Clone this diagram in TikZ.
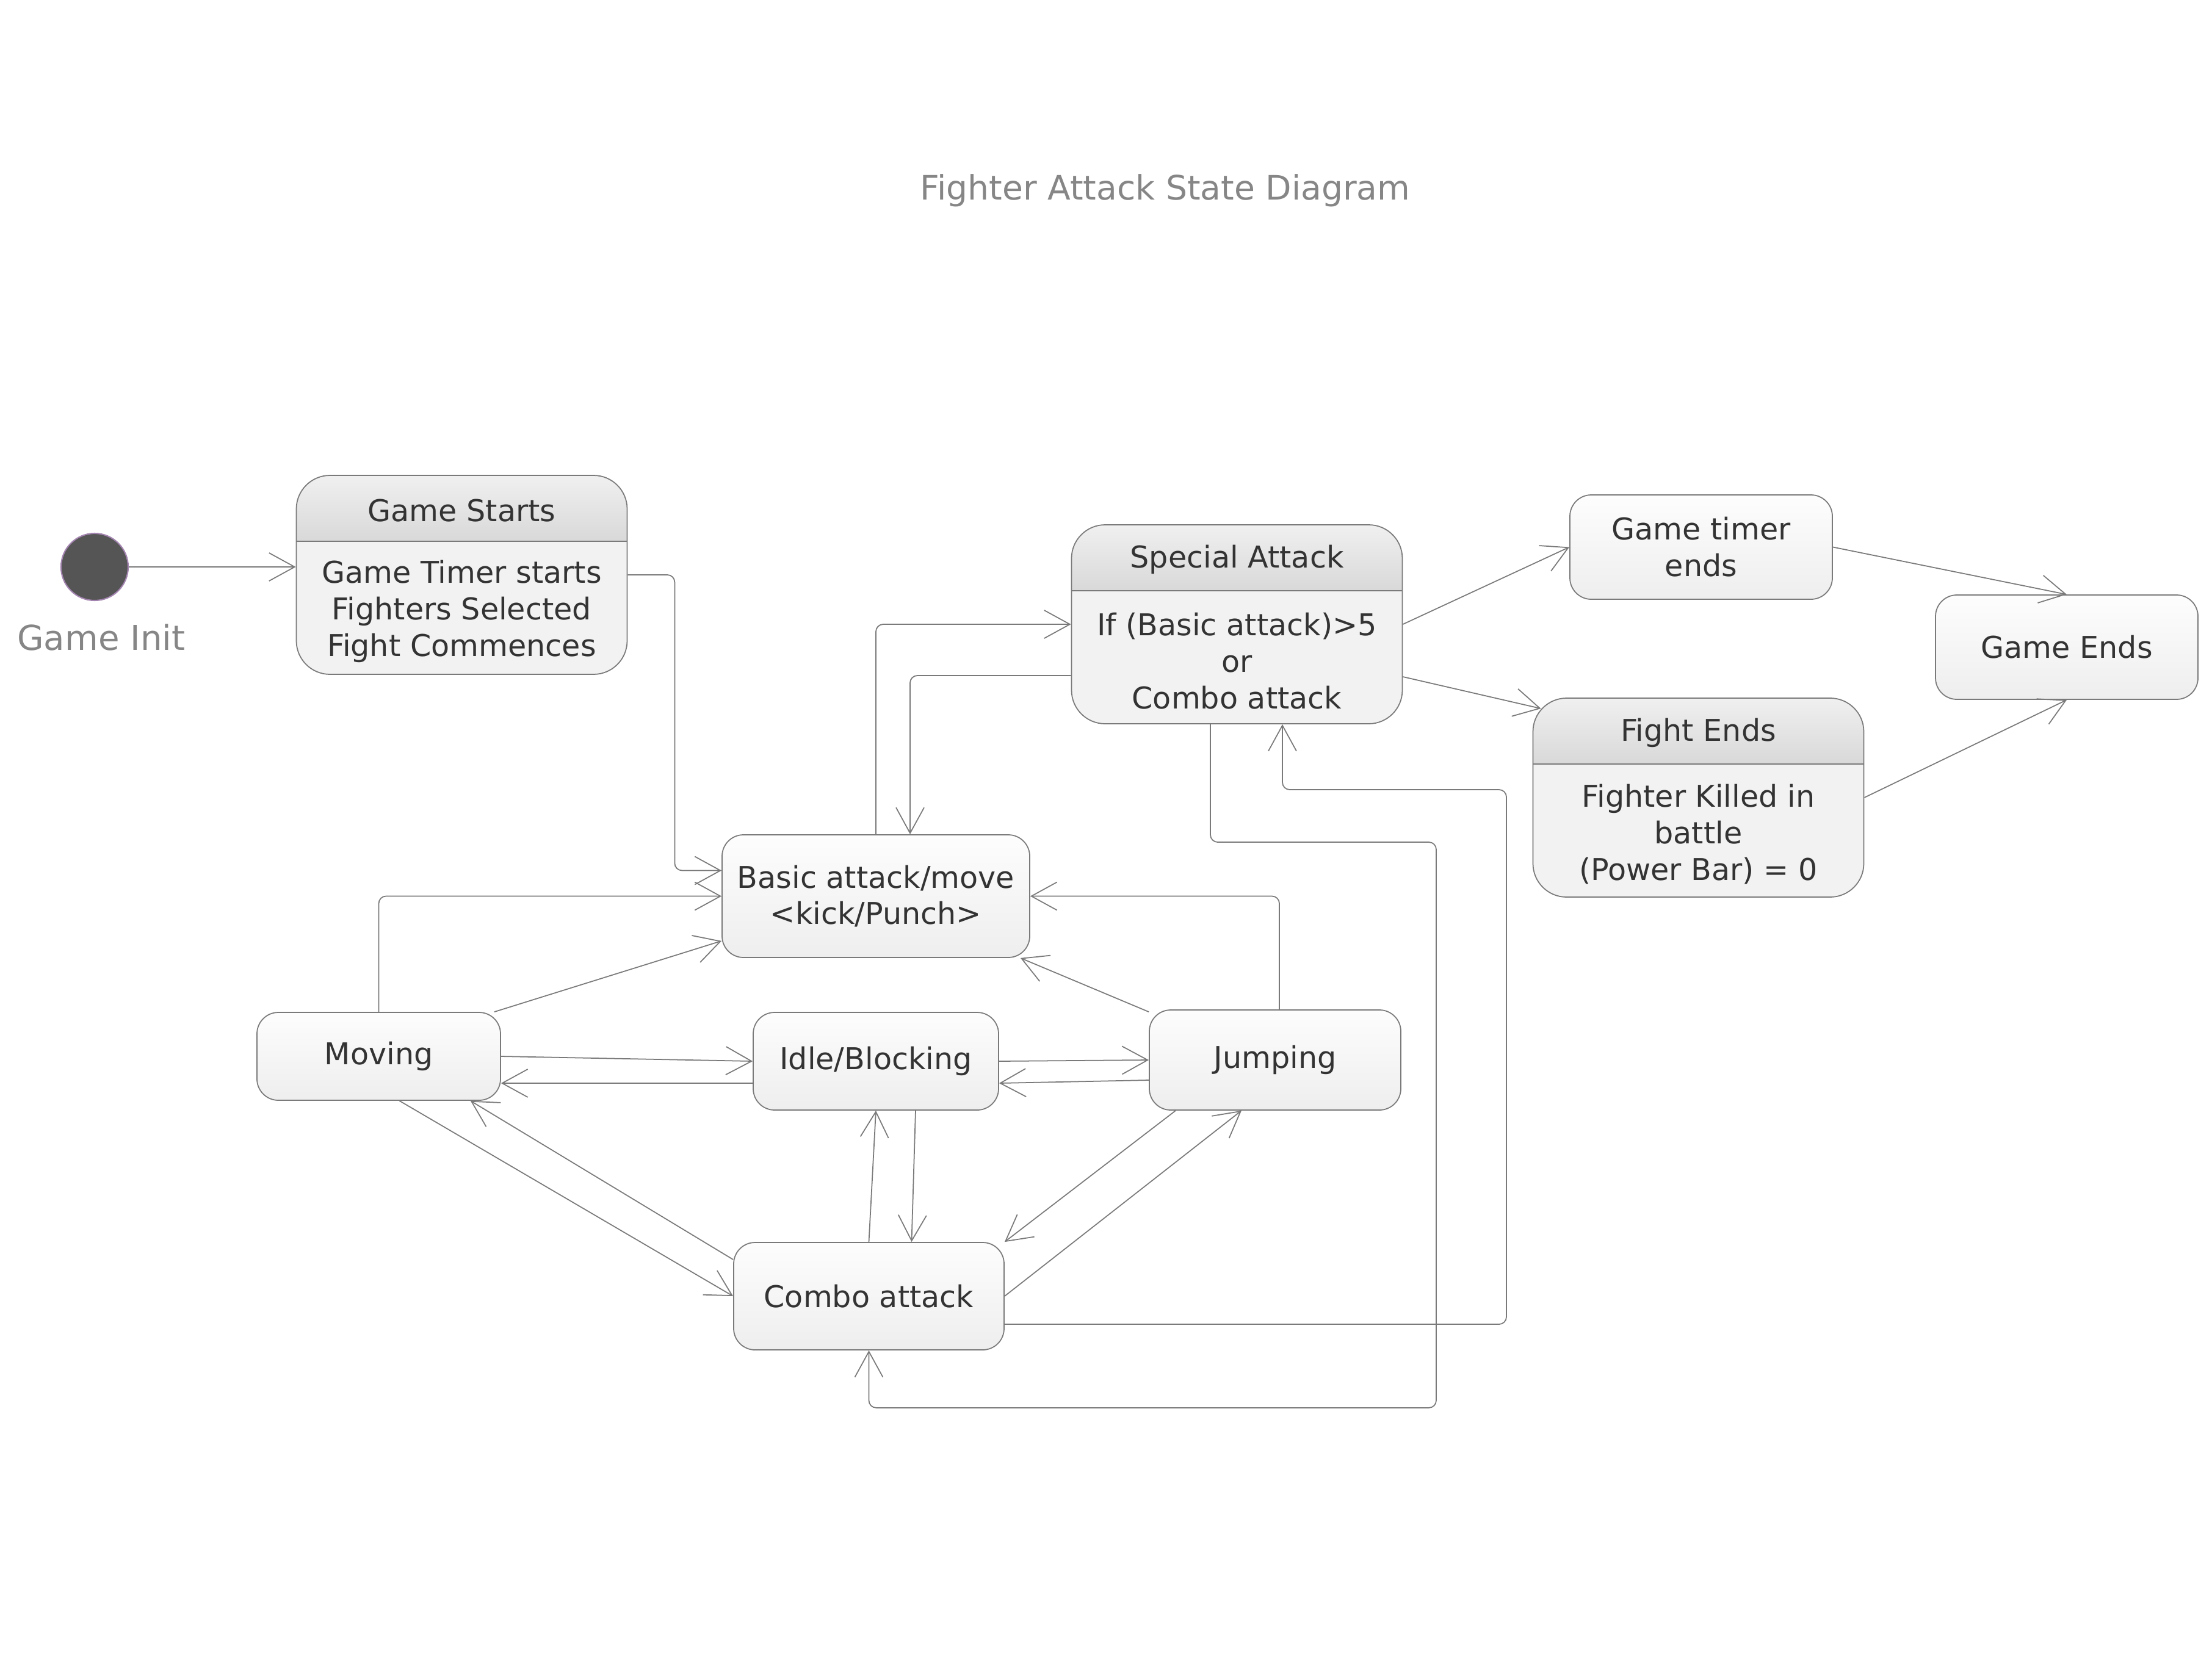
\documentclass[tikz,border=0pt]{standalone}
\usepackage{fontspec}
\setmainfont{DejaVu Sans}
\usetikzlibrary{arrows.meta}
\definecolor{linegray}{HTML}{7A7A7A}
\definecolor{textgray}{HTML}{333333}
\definecolor{labelgray}{HTML}{868686}
\definecolor{hdrtop}{HTML}{F0F0F0}
\definecolor{hdrbot}{HTML}{A9A9A9}
\definecolor{bodyfill}{HTML}{F2F2F2}
\definecolor{statetop}{HTML}{FDFDFD}
\definecolor{statebot}{HTML}{EEEEEE}
\definecolor{initfill}{HTML}{555555}
\definecolor{initrim}{HTML}{A384B0}
\tikzset{
        every node/.style={text=textgray, font=\fontsize{14}{17}\selectfont},
        state/.style={rectangle, rounded corners=3.5mm, draw=linegray, line width=0.5pt, top color=statetop, bottom color=statebot, inner sep=0pt, align=center},
        compound/.style={rectangle, rounded corners=5.5mm, draw=linegray, line width=0.5pt, fill=bodyfill, minimum width=5.42cm, minimum height=3.26cm,
          path picture={
            \shade[sharp corners, top color=hdrtop, bottom color=hdrbot] (path picture bounding box.north west) rectangle ([yshift=-10.8mm]path picture bounding box.north east);
            \draw[sharp corners, linegray, line width=0.8pt] ([yshift=-10.8mm]path picture bounding box.north west) -- ([yshift=-10.8mm]path picture bounding box.north east);
          }},
        hdrtext/.style={inner sep=0pt},
        bodytext/.style={inner sep=0pt, align=center},
        initial/.style={circle, fill=initfill, draw=initrim, line width=0.6pt, minimum size=1.1cm, inner sep=0pt},
        graylabel/.style={text=labelgray, font=\fontsize{16}{19}\selectfont},
        diagtitle/.style={text=labelgray, font=\fontsize{15.7}{19}\selectfont},
        conn/.style={draw=linegray, line width=0.5pt, rounded corners=1.2mm, -{Straight Barb[length=4.2mm, width=4.6mm]}}
          }
\begin{document}
\begin{tikzpicture}
\useasboundingbox (0,0) rectangle (36.24,-27.53);
% title
\node[diagtitle] (title) at (19.09,-3.12) {Fighter Attack State Diagram};
% start point
\node[initial] (init) at (1.55,-9.29) {};
\node[graylabel] (initlabel) at (1.66,-10.45) {Game Init};
% composite states
\node[compound] (start) at (7.565,-9.42) {};
\node[hdrtext] (start-title) at ([yshift=-5.8mm]start.north) {Game Starts};
\node[bodytext] (start-body) at ([yshift=-6mm]start.center) {Game Timer starts\\Fighters Selected\\Fight Commences};
\node[compound] (special) at (20.265,-10.23) {};
\node[hdrtext] (special-title) at ([yshift=-5.8mm]special.north) {Special Attack};
\node[bodytext] (special-body) at ([yshift=-6mm]special.center) {If (Basic attack)>5\\or\\Combo attack};
\node[compound] (fightend) at (27.825,-13.07) {};
\node[hdrtext] (fightend-title) at ([yshift=-5.8mm]fightend.north) {Fight Ends};
\node[bodytext] (fightend-body) at ([yshift=-6mm]fightend.center) {Fighter Killed in\\battle\\(Power Bar) = 0};
% simple states
\node[state, minimum width=4.30cm, minimum height=1.71cm] (timer) at (27.87,-8.965) {Game timer\\ends};
\node[state, minimum width=4.30cm, minimum height=1.71cm] (gameend) at (33.86,-10.605) {Game Ends};
\node[state, minimum width=5.04cm, minimum height=2.01cm] (basic) at (14.35,-14.685) {Basic attack/move\\<kick/Punch>};
\node[state, minimum width=3.99cm, minimum height=1.44cm] (moving) at (6.205,-17.31) {Moving};
\node[state, minimum width=4.02cm, minimum height=1.60cm] (idle) at (14.35,-17.39) {Idle/Blocking};
\node[state, minimum width=4.12cm, minimum height=1.64cm] (jumping) at (20.89,-17.37) {Jumping};
\node[state, minimum width=4.43cm, minimum height=1.76cm] (combo) at (14.235,-21.24) {Combo attack};
% transitions
\draw[conn] (init.east) -- (init.east -| start.west);
\draw[conn] (start.east) -- ++(0.77,0) |- ([yshift=4.2mm]basic.west);
\draw[conn] (moving.north) |- (basic.west);
\draw[conn] ([xshift=-1.1mm]moving.north east) -- ([yshift=2.8mm]basic.south west);
\draw[conn] (basic.north) |- (special.west);
\draw[conn] ([yshift=-8.4mm]special.west) -| ([xshift=5.6mm]basic.north);
\draw[conn] ([xshift=0.7mm]jumping.north) |- (basic.east);
\draw[conn] ([yshift=-0.4mm]jumping.north west) -- ([xshift=-1.6mm]basic.south east);
\draw[conn] (moving.east) -- (idle.west);
\draw[conn] ([yshift=-3.6mm]idle.west) -- ([yshift=-4.4mm]moving.east);
\draw[conn] (idle.east) -- (jumping.west);
\draw[conn] ([yshift=-3.3mm]jumping.west) -- ([yshift=-3.6mm]idle.east);
\draw[conn] ([xshift=3.4mm]moving.south) -- (combo.west);
\draw[conn] ([yshift=6mm]combo.west) -- ([xshift=-5mm]moving.south east);
\draw[conn] (combo.north) -- (idle.south);
\draw[conn] ([xshift=6.5mm]idle.south) -- ([xshift=7mm]combo.north);
\draw[conn] ([xshift=4.4mm]jumping.south west) -- (combo.north east);
\draw[conn] (combo.east) -- ([xshift=-5.5mm]jumping.south);
\draw[conn] ([yshift=-4.6mm]combo.east) -| (24.68,-12.94) -| ([xshift=7.45mm]special.south);
\draw[conn] ([xshift=-4.35mm]special.south) |- (23.53,-13.80) |- ([yshift=-9.4mm]combo.south) -- (combo.south);
\draw[conn] (special.east) -- (timer.west);
\draw[conn] ([yshift=-8.6mm]special.east) -- ([xshift=1.4mm,yshift=-1.8mm]fightend.north west);
\draw[conn] (timer.east) -- (gameend.north);
\draw[conn] (fightend.east) -- (gameend.south);
\end{tikzpicture}
\end{document}
